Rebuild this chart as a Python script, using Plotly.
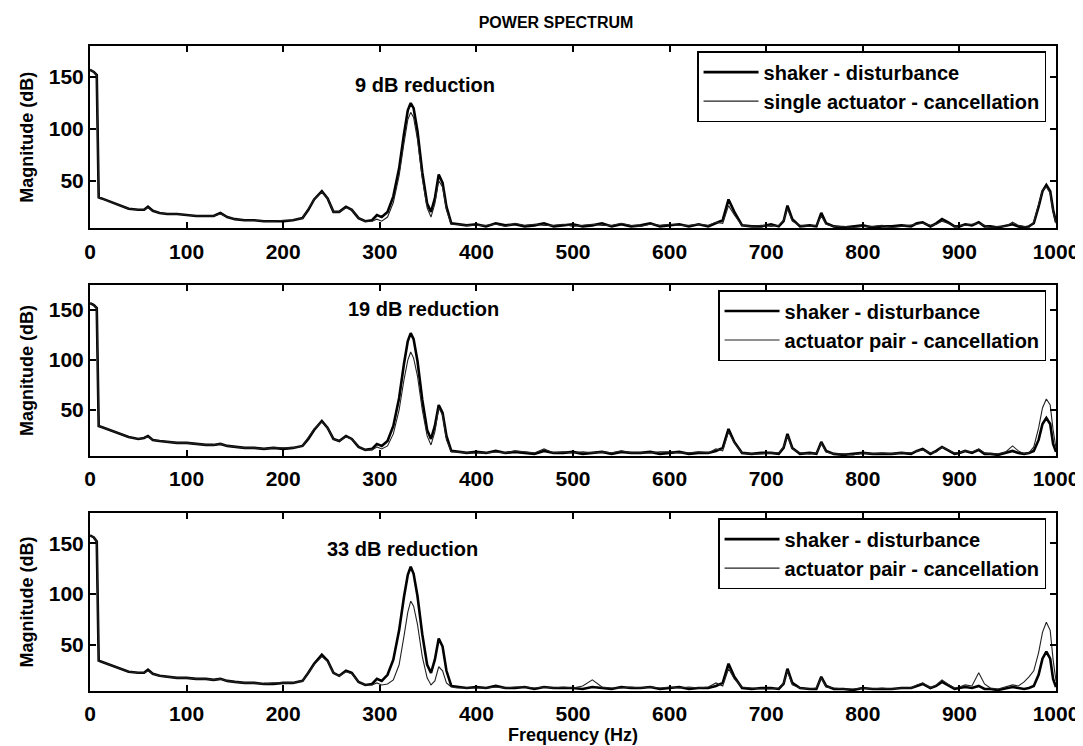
import plotly.graph_objects as go

# ---------------- data ----------------
freq = [0, 4, 7, 9, 12, 20, 30, 40, 50, 56,
        60, 65, 72, 80, 90, 100, 110, 120, 128, 135,
        142, 150, 160, 170, 180, 190, 200, 210, 220, 226,
        232, 240, 246, 252, 258, 265, 271, 278, 285, 292,
        297, 302, 308, 314, 320, 325, 329, 332, 335, 339,
        344, 349, 353, 357, 361, 365, 369, 374, 380, 390,
        400, 410, 420, 430, 440, 450, 460, 470, 480, 490,
        500, 510, 520, 530, 540, 550, 560, 570, 580, 590,
        600, 610, 620, 630, 640, 648, 655, 661, 667, 675,
        685, 695, 705, 713, 718, 722, 727, 735, 745, 752,
        757, 762, 770, 780, 790, 800, 810, 820, 830, 840,
        850, 856, 862, 870, 876, 882, 888, 895, 900, 906,
        913, 920, 926, 932, 940, 948, 955, 961, 967, 972,
        977, 982, 986, 990, 994, 997, 1000]

shaker_1 = [157, 155, 152, 34, 33, 30, 27, 23, 22, 22,
            25, 21, 19, 18, 18, 17, 16, 16, 16, 19,
            15, 13, 12, 12, 11, 11, 11, 12, 14, 22,
            32, 40, 33, 20, 20, 25, 22, 14, 11, 12,
            17, 15, 20, 35, 62, 95, 118, 125, 120, 98,
            58, 28, 20, 33, 56, 48, 25, 9, 8, 7,
            8, 6, 9, 7, 8, 6, 7, 9, 6, 7,
            8, 6, 7, 9, 6, 8, 6, 7, 9, 6,
            7, 8, 6, 8, 6, 9, 12, 32, 20, 7,
            6, 6, 8, 6, 11, 26, 13, 6, 7, 6,
            19, 9, 6, 5, 6, 7, 5, 6, 6, 7,
            6, 9, 10, 6, 9, 13, 10, 6, 6, 8,
            7, 10, 6, 6, 5, 7, 8, 6, 5, 6,
            9, 25, 40, 46, 40, 22, 10]

single_cancel_1 = [157, 155, 152, 34, 33, 30, 27, 23, 22, 22,
                   24, 21, 19, 18, 18, 17, 16, 16, 16, 18,
                   15, 13, 12, 12, 11, 11, 12, 12, 14, 23,
                   32, 39, 33, 20, 20, 24, 22, 14, 11, 11,
                   13, 11, 15, 29, 55, 86, 109, 116, 111, 90,
                   52, 24, 15, 28, 50, 44, 22, 8, 8, 7,
                   7, 7, 8, 6, 9, 7, 8, 7, 7, 8,
                   6, 7, 8, 7, 7, 9, 7, 6, 8, 7,
                   8, 7, 7, 8, 7, 10, 9, 26, 17, 7,
                   6, 7, 6, 7, 12, 23, 11, 7, 6, 7,
                   16, 8, 6, 6, 5, 6, 6, 7, 5, 6,
                   7, 8, 9, 7, 8, 11, 9, 6, 7, 7,
                   8, 9, 7, 5, 6, 6, 10, 7, 6, 5,
                   10, 26, 41, 44, 38, 20, 9]

shaker_2 = [157, 155, 152, 34, 33, 30, 27, 23, 21, 22,
            24, 20, 19, 18, 17, 17, 16, 15, 15, 16,
            14, 13, 12, 12, 11, 12, 11, 12, 14, 21,
            30, 39, 32, 21, 19, 24, 21, 13, 10, 11,
            16, 14, 19, 34, 62, 96, 119, 127, 121, 99,
            60, 30, 21, 34, 55, 47, 24, 9, 8, 7,
            8, 7, 9, 7, 8, 7, 6, 9, 7, 7,
            8, 6, 7, 8, 6, 8, 7, 7, 8, 6,
            7, 8, 6, 7, 7, 9, 12, 31, 18, 7,
            6, 7, 7, 6, 12, 26, 12, 6, 7, 6,
            18, 9, 6, 5, 6, 7, 6, 6, 6, 7,
            6, 9, 11, 6, 9, 13, 10, 6, 7, 9,
            7, 10, 6, 6, 5, 7, 9, 7, 6, 7,
            9, 20, 36, 42, 36, 16, 8]

pair_cancel_2 = [157, 155, 152, 34, 33, 30, 27, 23, 21, 22,
                 23, 20, 19, 18, 17, 17, 16, 15, 15, 16,
                 14, 13, 12, 12, 11, 12, 12, 12, 14, 22,
                 31, 38, 32, 21, 19, 23, 21, 13, 10, 10,
                 13, 11, 14, 26, 50, 80, 100, 108, 102, 84,
                 50, 24, 15, 28, 52, 45, 20, 8, 8, 7,
                 7, 7, 8, 7, 9, 8, 7, 11, 7, 8,
                 7, 8, 7, 8, 7, 9, 7, 7, 7, 8,
                 8, 7, 7, 8, 7, 11, 9, 28, 17, 7,
                 6, 6, 7, 7, 13, 24, 11, 7, 6, 7,
                 17, 8, 6, 6, 5, 7, 6, 7, 6, 7,
                 7, 9, 10, 7, 8, 13, 10, 7, 7, 9,
                 8, 11, 7, 6, 6, 8, 14, 9, 6, 7,
                 13, 32, 52, 61, 55, 30, 12]

shaker_3 = [158, 156, 152, 34, 33, 30, 27, 23, 22, 22,
            25, 21, 19, 18, 17, 17, 16, 16, 15, 16,
            14, 13, 12, 12, 11, 11, 12, 12, 14, 22,
            31, 40, 34, 22, 19, 24, 22, 13, 10, 11,
            16, 14, 20, 35, 64, 97, 119, 127, 120, 98,
            60, 30, 22, 35, 56, 48, 24, 9, 8, 7,
            8, 7, 9, 7, 7, 8, 6, 8, 7, 7,
            7, 6, 8, 7, 6, 8, 7, 7, 8, 6,
            7, 8, 6, 7, 7, 9, 12, 31, 18, 7,
            6, 7, 7, 6, 11, 26, 12, 7, 6, 6,
            18, 9, 6, 6, 5, 7, 6, 6, 6, 7,
            7, 9, 11, 7, 9, 13, 10, 6, 7, 8,
            7, 9, 6, 6, 5, 7, 8, 7, 6, 7,
            9, 20, 36, 43, 36, 16, 8]

pair_cancel_3 = [158, 156, 152, 34, 33, 30, 27, 23, 22, 22,
                 24, 21, 19, 18, 17, 17, 16, 16, 15, 16,
                 14, 13, 12, 12, 11, 12, 12, 12, 14, 22,
                 30, 38, 33, 22, 19, 23, 21, 13, 10, 10,
                 12, 10, 11, 15, 30, 58, 82, 93, 88, 70,
                 38, 17, 10, 14, 28, 24, 12, 8, 7, 7,
                 7, 7, 8, 7, 8, 8, 7, 8, 7, 8,
                 7, 9, 15, 8, 7, 7, 8, 7, 8, 7,
                 8, 7, 8, 7, 8, 12, 9, 26, 16, 8,
                 7, 6, 6, 7, 12, 24, 10, 7, 6, 7,
                 17, 8, 7, 6, 6, 7, 6, 7, 6, 7,
                 7, 10, 12, 7, 10, 15, 11, 7, 8, 10,
                 9, 22, 11, 7, 6, 8, 10, 9, 13, 18,
                 24, 42, 62, 72, 64, 35, 14]

disturbance_name = "shaker - disturbance"
cancel_names = ["single actuator - cancellation",
                "actuator pair - cancellation",
                "actuator pair - cancellation"]
reduction_texts = ["9 dB reduction", "19 dB reduction", "33 dB reduction"]
reduction_x = [347, 345, 323]
reduction_y = [142, 151, 145]

x_ticks = [0, 100, 200, 300, 400, 500, 600, 700, 800, 900, 1000]
y_ticks = [50, 100, 150]

# ---------------- figure ----------------
FONT = "Liberation Sans, Arial, sans-serif"
shakers = [shaker_1, shaker_2, shaker_3]
cancels = [single_cancel_1, pair_cancel_2, pair_cancel_3]

y_domains = [[0.7171, 1.0], [0.3645, 0.6292], [0.0, 0.2757]]
y_ranges = [[4, 180], [4, 175], [4, 180]]
legend_tops = [0.992, 0.6216, 0.2681]

fig = go.Figure()
layout = dict(
    width=1083, height=746,
    margin=dict(l=82, r=26, t=38, b=54),
    paper_bgcolor="white", plot_bgcolor="white",
    font=dict(family=FONT, color="black"),
    title=dict(text="<b>POWER SPECTRUM</b>", x=548 / 1083, xanchor="center",
               y=1 - 14 / 746, yanchor="middle", yref="container",
               font=dict(size=16, family=FONT, color="black")),
    annotations=[],
)

for i in range(3):
    sfx = "" if i == 0 else str(i + 1)
    xa, ya, lg = "x" + sfx, "y" + sfx, "legend" + sfx
    fig.add_trace(go.Scatter(x=freq, y=shakers[i], mode="lines",
                             line=dict(color="black", width=2.6),
                             name=disturbance_name, xaxis=xa, yaxis=ya,
                             legend=lg))
    fig.add_trace(go.Scatter(x=freq, y=cancels[i], mode="lines",
                             line=dict(color="#222222", width=1.1),
                             name=cancel_names[i], xaxis=xa, yaxis=ya,
                             legend=lg))
    xaxis = dict(
        domain=[0, 1], anchor=ya, range=[0, 1000], tickvals=x_ticks,
        ticks="inside", ticklen=6, tickwidth=1.5, tickcolor="black",
        mirror="ticks", showline=True, linecolor="black", linewidth=2,
        showgrid=False, zeroline=False, ticklabelstandoff=3,
        tickfont=dict(family=FONT, size=21, color="black", weight="bold"),
    )
    if i == 2:
        xaxis["title"] = dict(text="<b>Frequency (Hz)</b>", standoff=4,
                              font=dict(family=FONT, size=18, color="black"))
    yaxis = dict(
        domain=y_domains[i], anchor=xa, range=y_ranges[i], tickvals=y_ticks,
        ticks="inside", ticklen=6, tickwidth=1.5, tickcolor="black",
        mirror="ticks", showline=True, linecolor="black", linewidth=2,
        showgrid=False, zeroline=False,
        tickfont=dict(family=FONT, size=21, color="black", weight="bold"),
        title=dict(text="<b>Magnitude (dB)</b>", standoff=10,
                   font=dict(family=FONT, size=18, color="black")),
    )
    layout["xaxis" + sfx] = xaxis
    layout["yaxis" + sfx] = yaxis
    layout["legend" + sfx] = dict(
        x=0.9897, xanchor="right", y=legend_tops[i], yanchor="top",
        bgcolor="white", bordercolor="black", borderwidth=1.5,
        font=dict(family=FONT, size=20, color="black", weight="bold"),
        itemwidth=55, tracegroupgap=0,
    )
    layout["annotations"].append(dict(
        text="<b>" + reduction_texts[i] + "</b>", x=reduction_x[i],
        y=reduction_y[i], xref=xa, yref=ya, showarrow=False,
        font=dict(family=FONT, size=20, color="black"),
    ))

fig.update_layout(**layout)
fig.write_html("out.html")
